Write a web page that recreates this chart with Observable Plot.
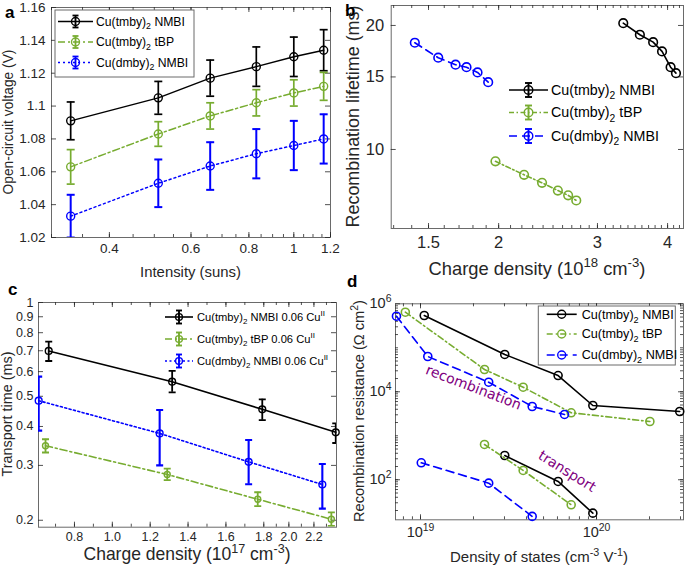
<!DOCTYPE html>
<html><head><meta charset="utf-8">
<script src="https://cdn.jsdelivr.net/npm/d3@7"></script>
<script src="https://cdn.jsdelivr.net/npm/@observablehq/plot@0.6"></script>
<style>
body{margin:0;background:#fff;}
#fig{position:relative;width:685px;height:568px;overflow:hidden;background:#fff;}
#fig svg{position:absolute;overflow:visible;}
</style></head><body><div id="fig"></div>
<script>
// ---------------- DATA ----------------
const seriesNames = ["Cu(tmby)_2 NMBI", "Cu(tmby)_2 tBP", "Cu(dmby)_2 NMBI"];
const seriesNamesC = ["Cu(tmby)_2 NMBI 0.06 Cu^{II}", "Cu(tmby)_2 tBP 0.06 Cu^{II}", "Cu(dmby)_2 NMBI 0.06 Cu^{II}"];
const seriesColors = ["#000000", "#77AC30", "#0000FF"];

// Panel a: Voc vs intensity
const aIntensity = [0.33, 0.51, 0.66, 0.83, 1.0, 1.16];
const aVoc_tmbyNMBI = [1.091, 1.105, 1.117, 1.124, 1.130, 1.134];
const aErr_tmbyNMBI = [0.0115, 0.010, 0.011, 0.012, 0.012, 0.0125];
const aVoc_tmbyTBP = [1.063, 1.083, 1.094, 1.102, 1.108, 1.112];
const aErr_tmbyTBP = [0.0105, 0.0075, 0.008, 0.008, 0.008, 0.0085];
const aVoc_dmbyNMBI = [1.033, 1.053, 1.0635, 1.071, 1.076, 1.080];
const aErr_dmbyNMBI = [0.013, 0.0145, 0.0145, 0.015, 0.015, 0.015];
const aXTicks = [0.4, 0.6, 0.8, 1, 1.2];
const aYTicks = [1.02, 1.04, 1.06, 1.08, 1.1, 1.12, 1.14, 1.16];

// Panel b: recombination lifetime vs charge density
const bDensity_tmbyNMBI = [3.335, 3.57, 3.77, 3.91, 4.05, 4.14];
const bLife_tmbyNMBI = [20.26, 18.99, 18.22, 17.3, 15.84, 15.32];
const bDensity_tmbyTBP = [1.974, 2.22, 2.39, 2.55, 2.66, 2.75];
const bLife_tmbyTBP = [9.36, 8.68, 8.30, 7.95, 7.74, 7.52];
const bDensity_dmbyNMBI = [1.418, 1.561, 1.676, 1.753, 1.834, 1.916];
const bLife_dmbyNMBI = [18.16, 16.7, 16.06, 15.84, 15.38, 14.57];
const bXTicks = [1.5, 2, 3, 4];
const bYTicks = [10, 15, 20];

// Panel c: transport time vs charge density
const cDensity_tmbyNMBI = [0.664, 1.316, 1.792, 2.374];
const cTime_tmbyNMBI = [0.699, 0.557, 0.454, 0.383];
const cLo_tmbyNMBI = [0.649, 0.515, 0.419, 0.354];
const cHi_tmbyNMBI = [0.749, 0.603, 0.489, 0.409];
const cDensity_tmbyTBP = [0.647, 1.29, 1.768, 2.339];
const cTime_tmbyTBP = [0.347, 0.2805, 0.2336, 0.2015];
const cLo_tmbyTBP = [0.330, 0.269, 0.222, 0.192];
const cHi_tmbyTBP = [0.364, 0.293, 0.246, 0.212];
const cDensity_dmbyNMBI = [0.611, 1.25, 1.72, 2.267];
const cTime_dmbyNMBI = [0.484, 0.380, 0.308, 0.2605];
const cLo_dmbyNMBI = [0.388, 0.300, 0.261, 0.218];
const cHi_dmbyNMBI = [0.578, 0.452, 0.362, 0.303];
const cXTicks = [0.8, 1.0, 1.2, 1.4, 1.6, 1.8, 2.0, 2.2];
const cYTicks = [0.2, 0.3, 0.4, 0.5, 0.6, 0.7, 0.8, 0.9, 1];

// Panel d: resistance vs density of states
const dRecDos_tmbyNMBI = [1.05e19, 3.01e19, 6.05e19, 9.53e19, 2.97e20];
const dRecRes_tmbyNMBI = [5.42e5, 7.05e4, 2.34e4, 4.88e3, 3.56e3];
const dRecDos_tmbyTBP = [8.2e18, 2.31e19, 3.83e19, 7.18e19, 2.01e20];
const dRecRes_tmbyTBP = [6.44e5, 3.21e4, 1.27e4, 3.33e3, 2.11e3];
const dRecDos_dmbyNMBI = [7.3e18, 1.10e19, 2.44e19, 4.31e19, 6.58e19];
const dRecRes_dmbyNMBI = [5.22e5, 6.34e4, 1.65e4, 4.63e3, 3.05e3];
const dTrDos_tmbyNMBI = [3.01e19, 6.05e19, 9.53e19];
const dTrRes_tmbyNMBI = [356, 91.5, 17.4];
const dTrDos_tmbyTBP = [2.31e19, 3.83e19, 7.18e19];
const dTrRes_tmbyTBP = [634, 163, 27];
const dTrDos_dmbyNMBI = [1.01e19, 2.44e19, 4.31e19];
const dTrRes_dmbyNMBI = [243, 83.8, 14.7];
const dXTicks = [1e19, 1e20];
const dYTicks = [1e2, 1e4, 1e6];
const dNotes = [
  {text: "recombination", x: 2.0e19, y: 1.25e4, angle: 21},
  {text: "transport", x: 6.8e19, y: 155, angle: 32}
];

// ---------------- HELPERS ----------------
const NS = "http://www.w3.org/2000/svg";
const FONT = "'Liberation Sans', Arial, Helvetica, sans-serif";
const AXC = "#262626";
const FRAMEC = "#6a6a6a";
const fig = document.getElementById("fig");
const capSymbol = {draw(ctx, size) {const w = Math.sqrt(size / Math.PI); ctx.moveTo(-w, 0); ctx.lineTo(w, 0);}};

function rows(xs, ys, lo, hi) {
  return xs.map((x, i) => ({x, y: ys[i], lo: lo ? lo[i] : null, hi: hi ? hi[i] : null}));
}
function rich(el, str, fs) {
  while (el.firstChild) el.removeChild(el.firstChild);
  el.setAttribute("font-size", fs.toFixed(2));
  const re = /([_^])(\{[^}]*\}|.)/g;
  let last = 0, m; const parts = [];
  while ((m = re.exec(str))) {
    if (m.index > last) parts.push({t: str.slice(last, m.index), k: 0});
    let t = m[2]; if (t[0] === "{") t = t.slice(1, -1);
    parts.push({t, k: m[1] === "^" ? -1 : 1});
    last = re.lastIndex;
  }
  if (last < str.length) parts.push({t: str.slice(last), k: 0});
  let cur = 0;
  for (const p of parts) {
    const ts = document.createElementNS(NS, "tspan");
    const target = p.k === -1 ? -0.42 * fs : p.k === 1 ? 0.3 * fs : 0;
    if (target - cur !== 0) ts.setAttribute("dy", (target - cur).toFixed(2));
    cur = target;
    if (p.k) ts.setAttribute("font-size", (0.72 * fs).toFixed(2));
    ts.textContent = p.t;
    el.appendChild(ts);
  }
}
function fixRich(svg) {
  svg.querySelectorAll("text").forEach(t => {
    const s = t.textContent;
    if (/[_^]/.test(s)) {
      const fs = parseFloat(getComputedStyle(t).fontSize);
      rich(t, s, fs);
    }
  });
}
// text whose font size is tuned so that its printed width matches the reference width
function addText(svg, {x, y, text, fs, width, anchor = "middle", rotate = 0, weight = "normal", fill = AXC, family = FONT}) {
  const t = document.createElementNS(NS, "text");
  t.setAttribute("transform", `translate(${x},${y}) rotate(${rotate})`);
  t.setAttribute("text-anchor", anchor);
  t.setAttribute("font-weight", weight);
  t.setAttribute("font-family", family);
  t.setAttribute("fill", fill);
  svg.appendChild(t);
  rich(t, text, fs);
  if (width) {
    const len = t.getComputedTextLength();
    if (len > 0) rich(t, text, fs * width / len);
  }
  return t;
}
function addLegend(svg, {x1, x2, xt, ys, fs, width, r, err = 0, cap = 3, lw = 1.5, dashes, box, names, mw = 1.4}) {
  if (box) {
    const rc = document.createElementNS(NS, "rect");
    rc.setAttribute("x", box[0]); rc.setAttribute("y", box[1]);
    rc.setAttribute("width", box[2]); rc.setAttribute("height", box[3]);
    rc.setAttribute("fill", "#fff"); rc.setAttribute("stroke", FRAMEC); rc.setAttribute("stroke-width", 1);
    svg.appendChild(rc);
  }
  // size from the first entry
  let f = fs;
  if (width) {
    const probe = addText(svg, {x: -999, y: -999, text: names[0], fs, anchor: "start"});
    const len = probe.getComputedTextLength();
    if (len > 0) f = fs * width / len;
    probe.remove();
  }
  const g = d3.select(svg).append("g");
  names.forEach((name, i) => {
    const y = ys[i], xc = (x1 + x2) / 2, c = seriesColors[i];
    g.append("line").attr("x1", x1).attr("x2", x2).attr("y1", y).attr("y2", y)
      .attr("stroke", c).attr("stroke-width", lw).attr("stroke-dasharray", dashes[i]);
    if (err) {
      g.append("line").attr("x1", xc).attr("x2", xc).attr("y1", y - err).attr("y2", y + err).attr("stroke", c).attr("stroke-width", lw + 0.3);
      [y - err, y + err].forEach(yy => g.append("line").attr("x1", xc - cap).attr("x2", xc + cap).attr("y1", yy).attr("y2", yy).attr("stroke", c).attr("stroke-width", lw + 0.3));
    }
    g.append("circle").attr("cx", xc).attr("cy", y).attr("r", r).attr("fill", "none").attr("stroke", c).attr("stroke-width", mw);
    addText(svg, {x: xt, y: y + f * 0.35, text: name, fs: f, anchor: "start", fill: "#000"});
  });
}
function tickMarks({xMaj, xMin = [], yMaj, yMin = [], W, H, maj = 5, min = 3}) {
  const st = {stroke: AXC, strokeWidth: 0.8};
  const m = [];
  const xr = (vals, len) => vals.length && m.push(
    Plot.ruleX(vals, {x: d => d, insetTop: H - len, ...st}),
    Plot.ruleX(vals, {x: d => d, insetBottom: H - len, ...st}));
  const yr = (vals, len) => vals.length && m.push(
    Plot.ruleY(vals, {y: d => d, insetRight: W - len, ...st}),
    Plot.ruleY(vals, {y: d => d, insetLeft: W - len, ...st}));
  xr(xMaj, maj); xr(xMin, min); yr(yMaj, maj); yr(yMin, min);
  return m;
}
function seriesMarks(pts, {color, dash, lw = 1.5, r = 4, mw = 1.4, err = false, ebw = 1.8, cap = 4}) {
  const out = [Plot.line(pts, {x: "x", y: "y", stroke: color, strokeWidth: lw, strokeDasharray: dash})];
  if (err) {
    out.push(Plot.ruleX(pts, {x: "x", y1: "lo", y2: "hi", stroke: color, strokeWidth: ebw, clip: true}));
    out.push(Plot.dot(pts, {x: "x", y: "lo", symbol: capSymbol, r: cap, stroke: color, fill: "none", strokeWidth: ebw, clip: true}));
    out.push(Plot.dot(pts, {x: "x", y: "hi", symbol: capSymbol, r: cap, stroke: color, fill: "none", strokeWidth: ebw, clip: true}));
  }
  out.push(Plot.dot(pts, {x: "x", y: "y", r, stroke: color, fill: "none", strokeWidth: mw}));
  return out;
}
function panel({left, top, width, height, ml, mr, mt, mb, x, y, marks}) {
  const svg = Plot.plot({
    width, height, marginLeft: ml, marginRight: mr, marginTop: mt, marginBottom: mb,
    x, y, marks,
    style: {fontFamily: FONT, color: AXC, background: "transparent", overflow: "visible"}
  });
  svg.style.left = left + "px"; svg.style.top = top + "px";
  fig.appendChild(svg);
  return svg;
}
const fmtPlain = d => String(+d.toFixed(2));
const fmtPow = d => "10^{" + Math.round(Math.log10(d)) + "}";
const inside = (dom) => v => v >= dom[0] - 1e-12 && v <= dom[dom.length - 1] + 1e-12;

// ---------------- PANEL A ----------------
{
  const W = 340, H = 285, ml = 51, mr = 10, mt = 7, mb = 48;
  const xd = [0.3, 1.2], yd = [1.02, 1.16];
  const aMinor = d3.range(0.3, 1.2001, 0.05).map(v => +v.toFixed(2)).filter(inside(xd));
  const dashes = [null, "7,3,2,3", "2,3"];
  const sets = [
    rows(aIntensity, aVoc_tmbyNMBI, aVoc_tmbyNMBI.map((v, i) => v - aErr_tmbyNMBI[i]), aVoc_tmbyNMBI.map((v, i) => v + aErr_tmbyNMBI[i])),
    rows(aIntensity, aVoc_tmbyTBP, aVoc_tmbyTBP.map((v, i) => v - aErr_tmbyTBP[i]), aVoc_tmbyTBP.map((v, i) => v + aErr_tmbyTBP[i])),
    rows(aIntensity, aVoc_dmbyNMBI, aVoc_dmbyNMBI.map((v, i) => v - aErr_dmbyNMBI[i]), aVoc_dmbyNMBI.map((v, i) => v + aErr_dmbyNMBI[i]))
  ];
  const svg = panel({left: 0, top: 0, width: W, height: H, ml, mr, mt, mb,
    x: {type: "log", domain: xd}, y: {type: "linear", domain: yd},
    marks: [
      Plot.frame({stroke: FRAMEC}),
      ...tickMarks({xMaj: aXTicks, xMin: aMinor, yMaj: aYTicks, W: W - ml - mr, H: H - mt - mb}),
      Plot.axisX({ticks: aXTicks, tickSize: 0, tickPadding: 6, tickFormat: fmtPlain, fontSize: 13.5, label: null}),
      Plot.axisY({ticks: aYTicks, tickSize: 0, tickPadding: 6, tickFormat: fmtPlain, fontSize: 13.5, label: null}),
      ...sets.flatMap((s, k) => seriesMarks(s, {color: seriesColors[k], dash: dashes[k], err: true, r: 4, cap: 4, lw: 1.5, ebw: k === 2 ? 2 : 1.7}))
    ]});
  addLegend(svg, {x1: 58, x2: 93, xt: 96, ys: [21.5, 42, 62.5], fs: 12.5, width: 89, r: 4, err: 6, cap: 3, dashes, box: [55, 10, 139, 67], names: seriesNames});
  addText(svg, {x: 190.5, y: 277, text: "Intensity (suns)", fs: 15, width: 101});
  addText(svg, {x: 12.5, y: 122, text: "Open-circuit voltage (V)", fs: 15, width: 145, rotate: -90});
  addText(svg, {x: 5, y: 18, text: "a", fs: 17, anchor: "start", weight: "bold", fill: "#000"});
  fixRich(svg);
}

// ---------------- PANEL B ----------------
{
  const W = 345, H = 285, ml = 50.7, mr = 2, mt = 5, mb = 57;
  const xd = [1.287, 4.27], yd = [6.43, 22.36];
  const bMinor = d3.range(1.3, 4.3, 0.1).map(v => +v.toFixed(1)).filter(inside(xd));
  const dashes = [null, "5,2.5,1.5,2.5", "8,5"];
  const sets = [
    rows(bDensity_tmbyNMBI, bLife_tmbyNMBI),
    rows(bDensity_tmbyTBP, bLife_tmbyTBP),
    rows(bDensity_dmbyNMBI, bLife_dmbyNMBI)
  ];
  const svg = panel({left: 340, top: 0, width: W, height: H, ml, mr, mt, mb,
    x: {type: "log", domain: xd}, y: {type: "log", domain: yd},
    marks: [
      Plot.frame({stroke: FRAMEC}),
      ...tickMarks({xMaj: bXTicks, xMin: bMinor, yMaj: bYTicks, W: W - ml - mr, H: H - mt - mb}),
      Plot.axisX({ticks: bXTicks, tickSize: 0, tickPadding: 8, tickFormat: fmtPlain, fontSize: 16.5, label: null}),
      Plot.axisY({ticks: bYTicks, tickSize: 0, tickPadding: 7, tickFormat: fmtPlain, fontSize: 16.5, label: null}),
      ...sets.flatMap((s, k) => seriesMarks(s, {color: seriesColors[k], dash: dashes[k], r: 4.3, lw: 1.6, mw: 1.6}))
    ]});
  addLegend(svg, {x1: 169, x2: 208, xt: 211, ys: [90, 112.5, 136], fs: 14.5, width: 104, r: 4.3, err: 7, cap: 3.5, lw: 1.6, dashes, names: seriesNames});
  addText(svg, {x: 197, y: 275, text: "Charge density (10^{18} cm^{-3})", fs: 18, width: 217});
  addText(svg, {x: 19, y: 116.5, text: "Recombination lifetime (ms)", fs: 18, width: 222, rotate: -90});
  addText(svg, {x: 5, y: 16, text: "b", fs: 17, anchor: "start", weight: "bold", fill: "#000"});
  fixRich(svg);
}

// ---------------- PANEL C ----------------
{
  const W = 340, H = 288, ml = 38, mr = 4, mt = 22, mb = 41.3;
  const xd = [0.61, 1.8, 2.38], yd = [0.19, 1.0];
  const iw = W - ml - mr;
  const cMinor = d3.range(0.7, 2.4, 0.1).map(v => +v.toFixed(1)).filter(inside(xd));
  const dashes = [null, "7,3,2,3", "2,2.5"];
  const sets = [
    rows(cDensity_tmbyNMBI, cTime_tmbyNMBI, cLo_tmbyNMBI, cHi_tmbyNMBI),
    rows(cDensity_tmbyTBP, cTime_tmbyTBP, cLo_tmbyTBP, cHi_tmbyTBP),
    rows(cDensity_dmbyNMBI, cTime_dmbyNMBI, cLo_dmbyNMBI, cHi_dmbyNMBI)
  ];
  const svg = panel({left: 0, top: 280, width: W, height: H, ml, mr, mt, mb,
    x: {type: "linear", domain: xd, range: [ml, ml + iw * 0.756, W - mr]}, y: {type: "log", domain: yd},
    marks: [
      Plot.frame({stroke: FRAMEC}),
      ...tickMarks({xMaj: cXTicks, xMin: cMinor, yMaj: cYTicks, W: iw, H: H - mt - mb}),
      Plot.axisX({ticks: cXTicks, tickSize: 0, tickPadding: 5, tickFormat: d => d.toFixed(1), fontSize: 12.5, label: null}),
      Plot.axisY({ticks: cYTicks, tickSize: 0, tickPadding: 5, tickFormat: fmtPlain, fontSize: 12.5, label: null}),
      ...sets.flatMap((s, k) => seriesMarks(s, {color: seriesColors[k], dash: dashes[k], err: true, r: k === 1 ? 3 : 3.4, cap: 3.5, lw: 1.6, ebw: k === 2 ? 2.1 : 1.8}))
    ]});
  addLegend(svg, {x1: 165, x2: 193, xt: 197, ys: [37, 59, 81], fs: 11, width: 128, r: 3.4, err: 6.5, cap: 3, lw: 1.6, dashes, names: seriesNamesC});
  addText(svg, {x: 187, y: 280, text: "Charge density (10^{17} cm^{-3})", fs: 17.5, width: 207});
  addText(svg, {x: 11.5, y: 134, text: "Transport time (ms)", fs: 14.3, width: 125, rotate: -90});
  addText(svg, {x: 8, y: 15, text: "c", fs: 17, anchor: "start", weight: "bold", fill: "#000"});
  fixRich(svg);
}

// ---------------- PANEL D ----------------
{
  const W = 345, H = 288, ml = 55, mr = 2, mt = 23.3, mb = 48.7;
  const xd = [7.21e18, 3.12e20], yd = [12.3, 1e6];
  const dXMinor = [18, 19, 20].flatMap(e => d3.range(1, 10).map(k => k * 10 ** e)).filter(inside(xd));
  const dYMinor = [1, 2, 3, 4, 5].flatMap(e => d3.range(1, 10).map(k => k * 10 ** e)).filter(inside(yd));
  const dashes = [null, "6,3,1.5,3", "8,5"];
  const rec = [rows(dRecDos_tmbyNMBI, dRecRes_tmbyNMBI), rows(dRecDos_tmbyTBP, dRecRes_tmbyTBP), rows(dRecDos_dmbyNMBI, dRecRes_dmbyNMBI)];
  const tr = [rows(dTrDos_tmbyNMBI, dTrRes_tmbyNMBI), rows(dTrDos_tmbyTBP, dTrRes_tmbyTBP), rows(dTrDos_dmbyNMBI, dTrRes_dmbyNMBI)];
  const svg = panel({left: 340, top: 280, width: W, height: H, ml, mr, mt, mb,
    x: {type: "log", domain: xd}, y: {type: "log", domain: yd},
    marks: [
      Plot.frame({stroke: FRAMEC}),
      ...tickMarks({xMaj: dXTicks, xMin: dXMinor, yMaj: dYTicks, yMin: dYMinor, W: W - ml - mr, H: H - mt - mb}),
      Plot.axisX({ticks: dXTicks, tickSize: 0, tickPadding: 7, tickFormat: fmtPow, fontSize: 14.5, label: null}),
      Plot.axisY({ticks: dYTicks, tickSize: 0, tickPadding: 4, tickFormat: fmtPow, fontSize: 14.5, label: null}),
      ...rec.flatMap((s, k) => seriesMarks(s, {color: seriesColors[k], dash: dashes[k], r: 4, lw: 1.6, mw: 1.6})),
      ...tr.flatMap((s, k) => seriesMarks(s, {color: seriesColors[k], dash: dashes[k], r: 4, lw: 1.6, mw: 1.6})),
      Plot.text(dNotes, {x: "x", y: "y", text: "text", rotate: "angle", fill: "#7F007F", fontSize: 14, fontFamily: "DejaVu Sans"})
    ]});
  addLegend(svg, {x1: 206.7, x2: 236.7, xt: 241.7, ys: [34.3, 54, 75], fs: 12.7, width: 92, r: 4, dashes, box: [198.3, 26, 137, 59], names: seriesNames, lw: 1.6});
  addText(svg, {x: 199, y: 282, text: "Density of states (cm^{-3} V^{-1})", fs: 15, width: 178});
  addText(svg, {x: 24, y: 131, text: "Recombination resistance (Ω cm^2)", fs: 14.6, width: 222, rotate: -90});
  addText(svg, {x: 7, y: 7, text: "d", fs: 17, anchor: "start", weight: "bold", fill: "#000"});
  fixRich(svg);
}
</script></body></html>
